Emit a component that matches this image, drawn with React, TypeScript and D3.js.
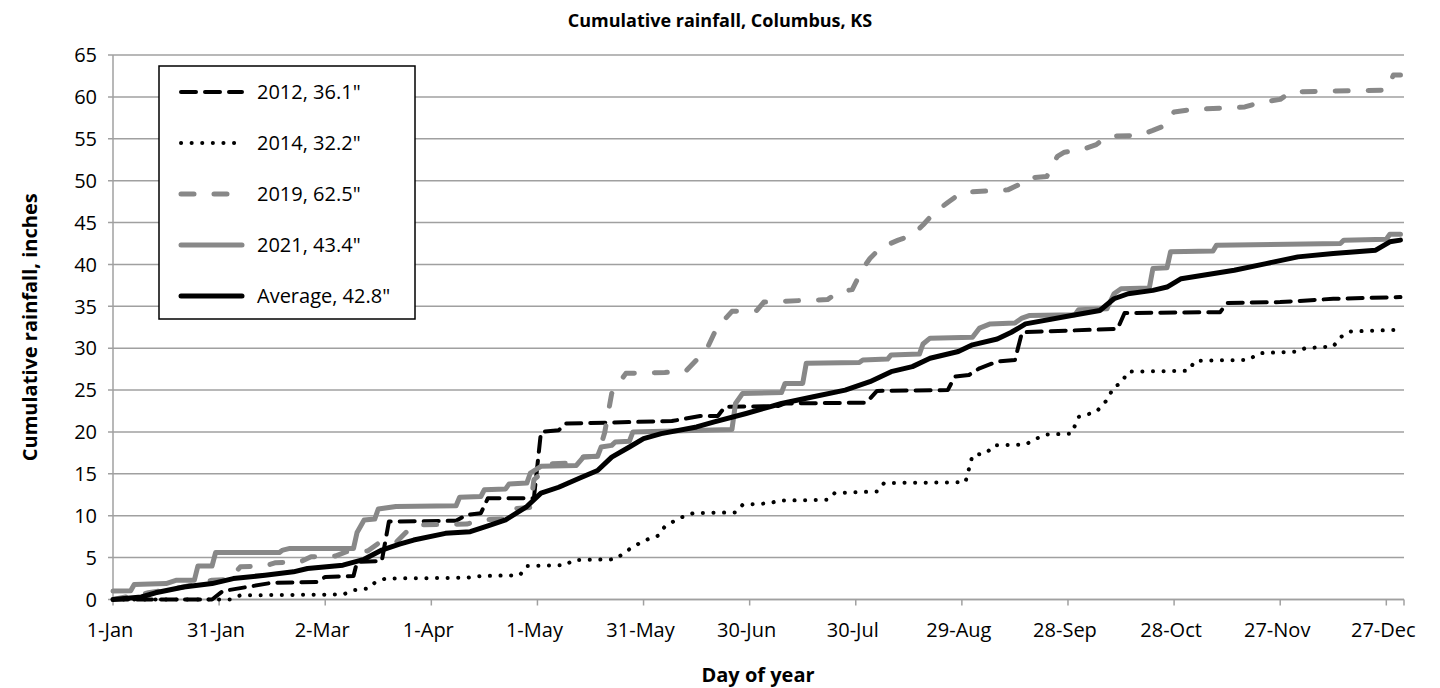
import * as d3 from 'd3'

// cumulative rainfall (inches) by day of year
const rain2012: [number, number][] = [
  [0, 0], [28, 0], [31, 1.0], [38, 1.5], [45, 2.0], [58, 2.1], [60, 2.7], [68, 2.8],
  [69, 4.5], [76, 4.6], [78, 9.3], [97, 9.4], [100, 10.1], [104, 10.3], [106, 12.1],
  [119, 12.1], [121, 20.0], [126, 20.2], [128, 21.0], [158, 21.3], [166, 21.9],
  [171, 21.9], [173, 23.0], [188, 23.1], [190, 23.4], [213, 23.5], [216, 24.9],
  [236, 25.0], [238, 26.6], [242, 26.8], [245, 27.6], [250, 28.4], [255, 28.6],
  [257, 31.9], [270, 32.1], [284, 32.3], [286, 34.2], [313, 34.3], [315, 35.4],
  [330, 35.5], [345, 35.9], [364, 36.1],
]

const rain2014: [number, number][] = [
  [0, 0], [33, 0], [36, 0.5], [65, 0.6], [68, 1.1], [72, 1.3], [74, 2.0], [77, 2.5],
  [100, 2.6], [104, 2.8], [115, 2.9], [117, 4.0], [128, 4.1], [130, 4.7], [142, 4.8],
  [146, 6.0], [150, 7.0], [154, 7.6], [156, 8.7], [160, 9.7], [164, 10.3], [176, 10.4],
  [178, 11.3], [186, 11.5], [188, 11.8], [202, 11.9], [204, 12.7], [216, 12.9],
  [218, 13.9], [241, 14.0], [243, 17.2], [247, 17.5], [249, 18.4], [258, 18.5],
  [261, 19.2], [264, 19.7], [271, 19.8], [273, 21.8], [278, 22.4], [281, 23.8],
  [283, 25.4], [285, 25.8], [287, 27.2], [304, 27.3], [306, 28.5], [321, 28.6],
  [324, 29.4], [335, 29.6], [337, 30.0], [345, 30.2], [347, 31.3], [350, 32.0],
  [364, 32.2],
]

const rain2019: [number, number][] = [
  [0, 0], [10, 0.8], [20, 1.5], [28, 2.3], [33, 2.4], [36, 3.9], [43, 4.0], [46, 4.4],
  [53, 4.5], [56, 5.1], [63, 5.2], [66, 5.7], [72, 5.8], [75, 6.7], [80, 6.8],
  [84, 8.5], [86, 8.9], [100, 9.0], [104, 9.5], [110, 9.6], [112, 10.8], [118, 11.0],
  [119, 14.3], [122, 15.4], [124, 16.2], [130, 16.3], [132, 17.0], [137, 17.1],
  [139, 19.9], [141, 24.6], [145, 27.0], [156, 27.1], [162, 27.3], [165, 28.6],
  [168, 30.0], [170, 31.8], [172, 33.0], [175, 34.4], [182, 34.5], [184, 35.5],
  [195, 35.7], [202, 35.8], [205, 36.7], [209, 37.0], [212, 39.5], [214, 40.7],
  [217, 42.0], [222, 42.9], [226, 43.5], [229, 44.7], [232, 46.1], [236, 47.4],
  [240, 48.6], [253, 48.9], [256, 49.5], [258, 50.3], [264, 50.5], [267, 52.9],
  [269, 53.4], [274, 53.7], [278, 54.3], [281, 55.3], [290, 55.4], [294, 56.0],
  [297, 56.5], [300, 58.2], [305, 58.5], [316, 58.7], [320, 58.8], [324, 59.3],
  [330, 59.7], [333, 60.6], [360, 60.8], [362, 62.6], [364, 62.6],
]

const rain2021: [number, number][] = [
  [0, 1.0], [5, 1.05], [6, 1.8], [15, 1.9], [18, 2.3], [23, 2.3], [24, 4.0], [28, 4.0],
  [29, 5.6], [47, 5.6], [48, 5.9], [50, 6.1], [68, 6.1], [69, 8.0], [71, 9.5],
  [74, 9.6], [75, 10.8], [80, 11.1], [97, 11.2], [98, 12.2], [104, 12.3], [105, 13.1],
  [111, 13.2], [112, 13.8], [117, 13.9], [118, 15.1], [121, 15.9], [131, 16.0],
  [133, 17.0], [137, 17.1], [138, 18.2], [141, 18.4], [142, 18.8], [146, 18.9],
  [147, 20.0], [175, 20.3], [176, 23.4], [178, 24.6], [189, 24.7], [190, 25.8],
  [195, 25.8], [196, 28.2], [211, 28.3], [212, 28.6], [219, 28.7], [220, 29.2],
  [228, 29.3], [229, 30.5], [231, 31.2], [243, 31.3], [245, 32.4], [248, 32.9],
  [255, 33.0], [257, 33.6], [259, 33.9], [272, 34.0], [273, 34.6], [281, 34.7],
  [283, 36.5], [285, 37.1], [293, 37.2], [294, 39.5], [298, 39.6], [299, 41.5],
  [311, 41.6], [312, 42.3], [347, 42.5], [348, 42.9], [360, 43.0], [361, 43.6],
  [364, 43.6],
]

const rainAverage: [number, number][] = [
  [0, 0], [8, 0.3], [12, 0.8], [20, 1.5], [28, 1.9], [34, 2.5], [43, 2.9], [51, 3.3],
  [55, 3.7], [65, 4.1], [71, 4.8], [76, 5.9], [81, 6.6], [85, 7.1], [94, 7.9],
  [101, 8.1], [106, 8.8], [111, 9.5], [117, 11.1], [121, 12.7], [126, 13.4],
  [132, 14.5], [137, 15.4], [141, 17.0], [146, 18.2], [150, 19.2], [155, 19.8],
  [165, 20.6], [170, 21.2], [179, 22.2], [189, 23.4], [198, 24.2], [207, 25.0],
  [214, 26.0], [220, 27.2], [226, 27.8], [231, 28.8], [239, 29.6], [243, 30.4],
  [250, 31.1], [254, 31.9], [258, 32.9], [271, 33.9], [279, 34.5], [283, 35.9],
  [287, 36.5], [294, 36.9], [298, 37.3], [302, 38.3], [317, 39.3], [326, 40.1],
  [335, 40.9], [345, 41.3], [357, 41.7], [361, 42.7], [364, 42.9],
]

const tickDays = [0, 30, 60, 90, 120, 150, 180, 210, 240, 270, 300, 330, 360]
const tickLabels = [
  '1-Jan', '31-Jan', '2-Mar', '1-Apr', '1-May', '31-May', '30-Jun',
  '30-Jul', '29-Aug', '28-Sep', '28-Oct', '27-Nov', '27-Dec',
]
const yTicks = d3.range(0, 66, 5)

const GRAY = '#888888'
const AXIS = '#a0a0a0'
const FONT = '"Open Sans", "Noto Sans", sans-serif'

const series = [
  { name: '2012, 36.1"', data: rain2012, color: '#000', width: 4, dash: '15,9' },
  { name: '2014, 32.2"', data: rain2014, color: '#000', width: 4, dash: '0.1,10.5' },
  { name: '2019, 62.5"', data: rain2019, color: GRAY, width: 5, dash: '13,20' },
  { name: '2021, 43.4"', data: rain2021, color: GRAY, width: 5, dash: null },
  { name: 'Average, 42.8"', data: rainAverage, color: '#000', width: 5, dash: null },
]

export default function App() {
  const width = 1440
  const height = 688
  const margin = { top: 55, right: 36, bottom: 88.5, left: 113 }

  const x = d3.scaleLinear().domain([0, 365]).range([margin.left, width - margin.right])
  const y = d3.scaleLinear().domain([0, 65]).range([height - margin.bottom, margin.top])

  const line = d3
    .line<[number, number]>()
    .x(d => x(d[0]))
    .y(d => y(d[1]))

  const legend = { x: 159, y: 66, w: 256, h: 253, row0: 92, rowStep: 51 }

  return (
    <svg
      width={width}
      height={height}
      style={{ position: 'absolute', left: 0, top: 0, background: '#fff' }}
      fontFamily={FONT}
    >
      {/* Title */}
      <text x={720} y={27} textAnchor="middle" fontSize={18} fontWeight="bold">
        Cumulative rainfall, Columbus, KS
      </text>

      {/* Gridlines */}
      {yTicks.map(t => (
        <line
          key={'g' + t}
          x1={margin.left - 5}
          x2={width - margin.right}
          y1={y(t)}
          y2={y(t)}
          stroke={AXIS}
          strokeWidth={1.5}
        />
      ))}

      {/* Y axis */}
      <line x1={margin.left} x2={margin.left} y1={y(65)} y2={y(0)} stroke={AXIS} strokeWidth={1.5} />
      {yTicks.map(t => (
        <text key={'yl' + t} x={97} y={y(t)} dy="0.36em" textAnchor="end" fontSize={20}>
          {t}
        </text>
      ))}

      {/* X axis */}
      <line
        x1={margin.left}
        x2={width - margin.right}
        y1={y(0)}
        y2={y(0)}
        stroke={AXIS}
        strokeWidth={1.5}
      />
      {tickDays.map((d, i) => (
        <g key={'xt' + d}>
          <line x1={x(d)} x2={x(d)} y1={y(0)} y2={y(0) + 6} stroke={AXIS} strokeWidth={1.5} />
          <text x={x(d) - 3} y={y(0) + 37} textAnchor="middle" fontSize={20}>
            {tickLabels[i]}
          </text>
        </g>
      ))}
      <line
        x1={width - margin.right}
        x2={width - margin.right}
        y1={y(0)}
        y2={y(0) + 6}
        stroke={AXIS}
        strokeWidth={1.5}
      />

      {/* Axis titles */}
      <text
        transform={`translate(30,${(y(0) + y(65)) / 2}) rotate(-90)`}
        textAnchor="middle"
        dy="0.35em"
        fontSize={20}
        fontWeight="bold"
      >
        Cumulative rainfall, inches
      </text>
      <text x={758} y={682} textAnchor="middle" fontSize={20} fontWeight="bold">
        Day of year
      </text>

      {/* Series */}
      {series.map(s => (
        <path
          key={s.name}
          d={line(s.data) || ''}
          fill="none"
          stroke={s.color}
          strokeWidth={s.width}
          strokeDasharray={s.dash || undefined}
          strokeLinecap="round"
          strokeLinejoin="round"
        />
      ))}

      {/* Legend */}
      <rect
        x={legend.x}
        y={legend.y}
        width={legend.w}
        height={legend.h}
        fill="#fff"
        stroke="#000"
        strokeWidth={1.5}
      />
      {series.map((s, i) => {
        const ry = legend.row0 + i * legend.rowStep
        return (
          <g key={'lg' + s.name}>
            <line
              x1={181}
              x2={242}
              y1={ry}
              y2={ry}
              stroke={s.color}
              strokeWidth={s.width}
              strokeDasharray={s.dash || undefined}
              strokeLinecap="round"
            />
            <text x={257} y={ry} dy="0.36em" fontSize={20}>
              {s.name}
            </text>
          </g>
        )
      })}
    </svg>
  )
}
